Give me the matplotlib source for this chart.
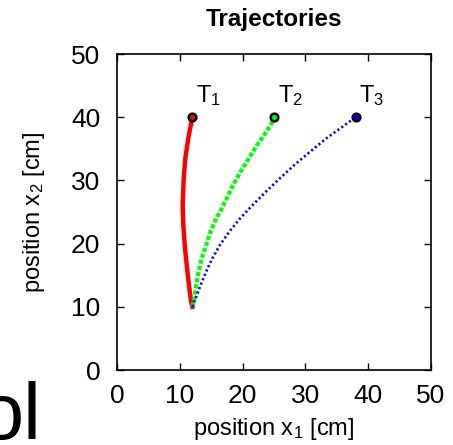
import numpy as np
import matplotlib
matplotlib.use('Agg')
import matplotlib.pyplot as plt

plt.rcParams['font.family'] = ['Liberation Sans', 'DejaVu Sans']
plt.rcParams['mathtext.fontset'] = 'custom'
plt.rcParams['mathtext.rm'] = 'Liberation Sans'
plt.rcParams['mathtext.it'] = 'Liberation Sans'
plt.rcParams['mathtext.default'] = 'regular'

#%% Data
t1_x = [12.0, 11.8, 11.46, 11.1, 10.78, 10.56, 10.46, 10.62, 10.88, 11.36, 12.0]
t1_y = [10.0, 10.8, 13.4, 16.6, 19.8, 22.9, 26.1, 30.3, 33.5, 36.7, 40.0]
t2_x = [12.0, 12.3, 12.6, 13.0, 13.5, 14.2, 14.9, 15.8, 16.4, 17.5, 18.5,
        19.7, 21.0, 22.3, 23.8, 24.6, 25.0]
t2_y = [10.0, 11.3, 13.4, 15.6, 17.7, 19.8, 21.9, 24.0, 25.0, 27.2, 29.3,
        31.4, 33.5, 35.6, 37.7, 39.0, 40.0]
t3_x = [12.0, 12.5, 13.3, 14.2, 15.2, 16.4, 17.9, 19.6, 21.6, 23.7, 25.9,
        28.2, 30.7, 33.4, 35.5, 38.0]
t3_y = [10.0, 11.3, 13.4, 15.6, 17.7, 19.8, 21.9, 24.0, 26.1, 28.2, 30.3,
        32.4, 34.5, 36.7, 38.2, 40.0]
names = ['T$_1$', 'T$_2$', 'T$_3$']
ticks = [0, 10, 20, 30, 40, 50]

#%% Plot
f = plt.figure(figsize=(4.53, 4.45), dpi=100)
ax = f.add_axes([117/453, 1 - 370/445, 314/453, 316/445])

ax.plot(t1_x, t1_y, color='#ff0000', lw=3.2, solid_joinstyle='round')
ax.plot(t2_x, t2_y, color='#00ff00', lw=3.0, dashes=(1.0, 0.5))
ax.plot(t3_x, t3_y, color='#0000ff', lw=1.9, dashes=(0.8, 1.0))

ends = [(t1_x[-1], t1_y[-1], '#ff0000'), (t2_x[-1], t2_y[-1], '#00ff00'),
        (t3_x[-1], t3_y[-1], '#0000ff')]
for (x, y, c), name in zip(ends, names):
    ax.plot([x], [y], 'o', ms=5.5, mfc=c, mec='black', mew=1.8)
    ax.text(x + 0.6, y + 2.4, name, fontsize=17, ha='left', va='baseline')

ax.set_xlim(0, 50)
ax.set_ylim(0, 50)
ax.set_xticks(ticks)
ax.set_yticks(ticks)
ax.tick_params(direction='in', top=True, right=True, length=5, width=1,
               labelsize=19)
ax.tick_params(axis='x', pad=10)
ax.tick_params(axis='y', pad=12)
for s in ax.spines.values():
    s.set_linewidth(1.2)

ax.set_xlabel('position x$_1$ [cm]', fontsize=17, labelpad=6)
ax.set_ylabel('position x$_2$ [cm]', fontsize=17, labelpad=17)
ax.set_title('Trajectories', fontsize=17.5, fontweight='bold', pad=20)

# fragment of a panel label cut at the figure edge
f.text(-0.044, 0.0135, 'ol', fontsize=57, ha='left', va='baseline')

plt.savefig('out.png', dpi=100)
